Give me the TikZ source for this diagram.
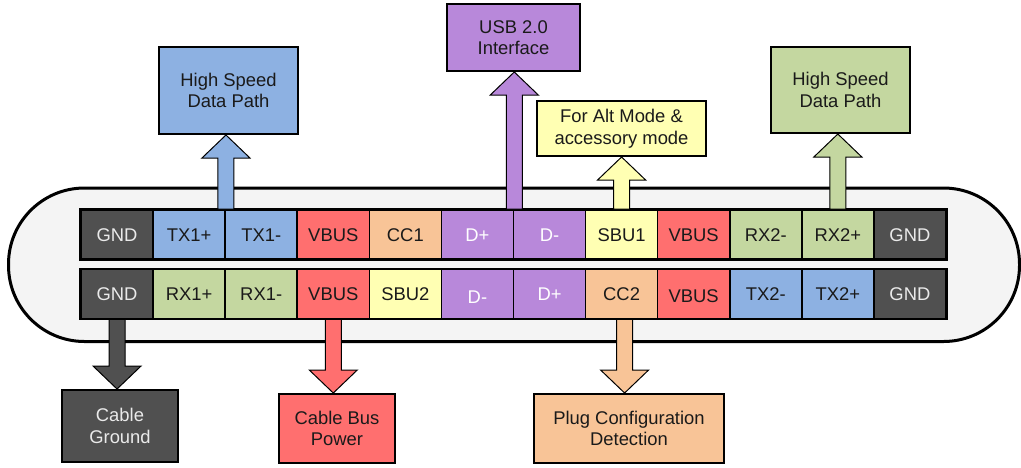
\documentclass[tikz,border=0pt]{standalone}
\usepackage{fontspec}
\setmainfont{Liberation Sans}
\usetikzlibrary{calc}
\definecolor{cgray}{HTML}{505050}
\definecolor{cblue}{HTML}{8DB1E2}
\definecolor{cgreen}{HTML}{C4D7A0}
\definecolor{cred}{HTML}{FF6F6F}
\definecolor{corange}{HTML}{F8C497}
\definecolor{cyellow}{HTML}{FFFFB3}
\definecolor{cpurple}{HTML}{B888DA}
\definecolor{cbody}{HTML}{F4F4F4}
\definecolor{clight}{HTML}{EAEAEA}
\definecolor{cdark}{HTML}{1A1A1A}
\newcommand{\dfont}{\fontsize{18.4}{21.5}\selectfont}
\newcommand{\UpBlock}[3]{\draw[arr,fill=#1] let \p1=(#2), \p2=(#3) in
  (\x1-8pt,\y1) -- (\x1-8pt,\y2-23pt) -- (\x1-24pt,\y2-23pt) -- (\x1,\y2) --
  (\x1+24pt,\y2-23pt) -- (\x1+8pt,\y2-23pt) -- (\x1+8pt,\y1) -- cycle;}
\newcommand{\DownBlock}[3]{\draw[arr,fill=#1] let \p1=(#2), \p2=(#3) in
  (\x1-8pt,\y1) -- (\x1-8pt,\y2+23pt) -- (\x1-24pt,\y2+23pt) -- (\x1,\y2) --
  (\x1+24pt,\y2+23pt) -- (\x1+8pt,\y2+23pt) -- (\x1+8pt,\y1) -- cycle;}
\begin{document}
\begin{tikzpicture}[x=1pt,y=-1pt,
  pin/.style={draw=black,line width=1.6pt,minimum width=72.08pt,minimum height=49pt,
    inner sep=0pt,text height=13.2pt,text depth=0pt,font=\dfont,anchor=center},
  box/.style={draw=black,line width=2pt,inner sep=0pt,align=center,font=\dfont,text=cdark},
  arr/.style={draw=black,line width=1pt,line join=miter}]
\useasboundingbox (0,0) rectangle (1021,467);
% connector body
\draw[line width=3pt,fill=cbody,rounded corners=76pt] (8.5,188) rectangle (1019.5,341.5);
% top row of pins
\foreach \lab/\col/\tc [count=\i] in {GND/cgray/clight,TX1+/cblue/cdark,TX1-/cblue/cdark,
  VBUS/cred/cdark,CC1/corange/cdark,D+/cpurple/white,D-/cpurple/white,SBU1/cyellow/cdark,
  VBUS/cred/cdark,RX2-/cgreen/cdark,RX2+/cgreen/cdark,GND/cgray/clight}
  \node[pin,fill=\col,text=\tc] (t\i) at ({81+72.08*(\i-0.5)},234.5) {\lab};
% bottom row of pins
\foreach \lab/\col/\tc/\dy [count=\i] in {GND/cgray/clight/0,RX1+/cgreen/cdark/0,RX1-/cgreen/cdark/0,
  VBUS/cred/cdark/0,SBU2/cyellow/cdark/0,D-/cpurple/white/3,D+/cpurple/white/0,CC2/corange/cdark/0,
  VBUS/cred/cdark/2,TX2-/cblue/cdark/0,TX2+/cblue/cdark/0,GND/cgray/clight/0}
  \node[pin,fill=\col,text=\tc] (b\i) at ({81+72.08*(\i-0.5)},294) {\raisebox{-\dy pt}{\lab}};
\draw[line width=2pt] (t1.north west) rectangle (t12.south east);
\draw[line width=2pt] (b1.north west) rectangle (b12.south east);
% boxes
\node[box,fill=cblue,minimum width=139pt,minimum height=87pt] (hsl) at (228.5,90.5) {High Speed\\Data Path};
\node[box,fill=cpurple,minimum width=133pt,minimum height=67pt] (usb) at (513.5,37.5) {USB 2.0\\Interface};
\node[box,fill=cyellow,minimum width=169pt,minimum height=55pt] (alt) at (621.5,128.5) {For Alt Mode \&\\accessory mode};
\node[box,fill=cgreen,minimum width=139pt,minimum height=86pt] (hsr) at (840.5,90) {High Speed\\Data Path};
\node[box,fill=cgray,text=clight,minimum width=116pt,minimum height=72pt] (cg) at (120,426) {Cable\\Ground};
\node[box,fill=cred,minimum width=116pt,minimum height=69pt] (cbp) at (337,428.5) {Cable Bus\\Power};
\node[box,fill=corange,minimum width=190pt,minimum height=69pt] (pcd) at (629,428.5) {Plug Configuration\\Detection};
% arrows
\UpBlock{cblue}{t2.north east}{t2.north east |- hsl.south}
\UpBlock{cpurple}{t6.north east}{t6.north east |- usb.south}
\UpBlock{cyellow}{t8.north}{t8.north |- alt.south}
\UpBlock{cgreen}{t11.north}{t11.north |- hsr.south}
\DownBlock{cgray}{b1.south}{b1.south |- cg.north}
\DownBlock{cred}{b4.south}{b4.south |- cbp.north}
\coordinate (cc) at ($(b8.south)+(3,0)$);
\DownBlock{corange}{cc}{cc |- pcd.north}
\end{tikzpicture}
\end{document}
